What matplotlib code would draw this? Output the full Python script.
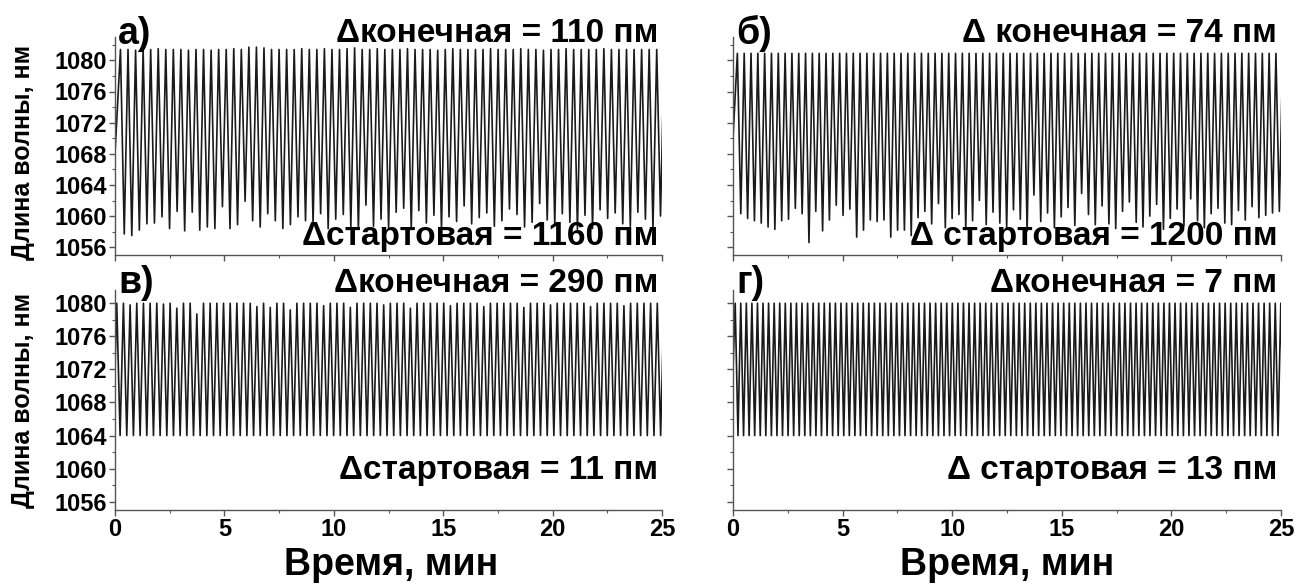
import numpy as np
import matplotlib
matplotlib.use("Agg")
import matplotlib.pyplot as plt
from matplotlib.ticker import MultipleLocator

plt.rcParams['font.family'] = ['Liberation Sans', 'DejaVu Sans']
plt.rcParams['font.weight'] = 'bold'

# --- данные: экстремумы каждого цикла перестройки (нм) ---

# а) период ~0.345 мин
a_period = 0.3452
a_first_peak = 0.25
a_start = 1068.0
a_peaks = [1081.4, 1081.4, 1081.3, 1081.4, 1081.4, 1081.5, 1081.4, 1081.4, 1081.4, 1081.3,
           1081.4, 1081.4, 1081.3, 1081.4, 1081.4, 1081.5, 1081.4, 1081.7, 1081.7, 1081.6,
           1081.4, 1081.4, 1081.4, 1081.4, 1081.5, 1081.4, 1081.4, 1081.5, 1081.4, 1081.4,
           1081.5, 1081.6, 1081.4, 1081.4, 1081.5, 1081.4, 1081.4, 1081.4, 1081.5, 1081.4,
           1081.4, 1081.4, 1081.3, 1081.4, 1081.5, 1081.4, 1081.4, 1081.4, 1081.4, 1081.5,
           1081.4, 1081.4, 1081.4, 1081.5, 1081.4, 1081.4, 1081.3, 1081.4, 1081.4, 1081.5,
           1081.4, 1081.4, 1081.4, 1081.4, 1081.5, 1081.4, 1081.4, 1081.4, 1081.4, 1081.4,
           1081.4, 1081.4, 1081.4]
a_troughs = [1057.7, 1057.5, 1058.2, 1059.0, 1059.1, 1059.9, 1058.4, 1060.6, 1058.1, 1060.5,
             1058.2, 1058.6, 1058.4, 1061.2, 1058.4, 1058.9, 1061.9, 1059.4, 1058.6, 1060.3,
             1059.4, 1058.4, 1058.9, 1059.9, 1059.4, 1059.1, 1060.3, 1058.4, 1059.6, 1060.2,
             1058.6, 1058.3, 1061.4, 1058.7, 1059.6, 1058.5, 1060.5, 1061.0, 1058.4, 1060.7,
             1059.1, 1060.1, 1058.3, 1059.9, 1059.3, 1061.3, 1059.0, 1059.8, 1060.4, 1058.7,
             1059.4, 1060.9, 1060.2, 1058.6, 1059.2, 1061.6, 1059.5, 1058.9, 1060.3, 1059.2,
             1058.3, 1060.1, 1058.4, 1060.8, 1059.7, 1060.4, 1059.0, 1058.7, 1060.5, 1059.6,
             1058.5, 1060.0, 1059.8]

# б) период ~0.311 мин
b_period = 0.311
b_first_peak = 0.2
b_start = 1070.0
b_peaks = [1080.9] * 81
b_troughs = [1060.3, 1059.7, 1059.4, 1059.1, 1058.6, 1058.3, 1059.4, 1059.6, 1061.0, 1060.3,
             1056.6, 1060.6, 1058.1, 1059.5, 1061.4, 1060.1, 1060.9, 1057.3, 1058.2, 1059.5,
             1059.3, 1059.5, 1057.3, 1058.2, 1058.2, 1057.5, 1059.8, 1060.6, 1059.0, 1061.6,
             1058.5, 1059.7, 1060.2, 1058.3, 1059.4, 1062.0, 1058.9, 1060.5, 1059.1, 1058.4,
             1060.8, 1059.6, 1058.1, 1062.7, 1059.3, 1060.4, 1058.5, 1059.9, 1061.1, 1058.8,
             1062.9, 1060.2, 1058.9, 1061.3, 1059.0, 1058.4, 1060.6, 1061.8, 1059.2, 1058.6,
             1060.0, 1061.5, 1058.3, 1059.7, 1060.9, 1058.7, 1062.2, 1059.4, 1058.5, 1060.3,
             1061.0, 1059.1, 1058.9, 1060.7, 1059.5, 1061.2, 1059.8, 1060.1, 1060.4, 1060.6,
             1060.4]

# в) период ~0.305 мин
c_period = 0.305
c_first_peak = 0.08
c_start = 1072.0
c_peaks = [1080.0, 1080.0, 1079.8, 1080.0, 1080.0, 1080.0, 1080.0, 1079.9, 1080.0, 1079.4,
           1080.0, 1080.0, 1078.7, 1080.0, 1080.0, 1080.0, 1080.0, 1080.0, 1080.0, 1080.0,
           1080.0, 1079.6, 1080.0, 1079.5, 1080.0, 1080.0, 1079.2, 1080.0, 1080.0, 1080.0,
           1080.0, 1079.7, 1080.0, 1080.0, 1080.0, 1079.5, 1080.0, 1080.0, 1080.0, 1080.0,
           1079.8, 1080.0, 1080.0, 1080.0, 1079.4, 1080.0, 1080.0, 1080.0, 1080.0, 1080.0,
           1079.7, 1080.0, 1080.0, 1080.0, 1080.0, 1079.6, 1080.0, 1080.0, 1080.0, 1080.0,
           1080.0, 1079.5, 1080.0, 1080.0, 1080.0, 1079.8, 1080.0, 1080.0, 1080.0, 1080.0,
           1080.0, 1079.6, 1080.0, 1080.0, 1080.0, 1080.0, 1079.7, 1080.0, 1080.0, 1080.0,
           1080.0, 1080.0, 1080.0]
c_troughs = [1064.0] * 83

# г) период ~0.254 мин
d_period = 0.254
d_first_peak = 0.1
d_start = 1072.0
d_peaks = [1080.0] * 100
d_troughs = [1064.0] * 100

panels = [
    ("а)", "Δконечная = 110 пм", "Δстартовая = 1160 пм",
     a_period, a_first_peak, a_start, a_peaks, a_troughs),
    ("б)", "Δ конечная = 74 пм", "Δ стартовая = 1200 пм",
     b_period, b_first_peak, b_start, b_peaks, b_troughs),
    ("в)", "Δконечная = 290 пм", "Δстартовая = 11 пм",
     c_period, c_first_peak, c_start, c_peaks, c_troughs),
    ("г)", "Δконечная = 7 пм", "Δ стартовая = 13 пм",
     d_period, d_first_peak, d_start, d_peaks, d_troughs),
]


def sweep(period, first_peak, start, peaks, troughs):
    # вершины: пик, затем минимум через половину периода
    t = [0.0]
    y = [start]
    for k, (p, m) in enumerate(zip(peaks, troughs)):
        t += [first_peak + k * period, first_peak + (k + 0.5) * period]
        y += [p, m]
    return np.array(t), np.array(y)


fig = plt.figure(figsize=(13.01, 5.87), dpi=100)
W, H = 1301, 587
boxes = [(115, 37, 662, 255), (733, 37, 1281, 255),
         (115, 290, 662, 510), (733, 290, 1281, 510)]
ylims = [(1055.0, 1083.0), (1055.0, 1083.0), (1055.0, 1081.6), (1055.0, 1081.6)]
top_y = [1.015, 1.015, 1.03, 1.03]
low_y = [0.085, 0.085, 0.18, 0.18]
ylabel_y = [152, 400]

for i, (letter, txt_end, txt_start, per, t0, y0, pk, tr) in enumerate(panels):
    x0, y1, x1, y2 = boxes[i]
    ax = fig.add_axes([x0 / W, 1 - y2 / H, (x1 - x0) / W, (y2 - y1) / H])
    t, y = sweep(per, t0, y0, pk, tr)
    ax.plot(t, y, color='#1a1a1a', lw=1.2)
    ax.set_xlim(0, 25)
    ax.set_ylim(*ylims[i])

    for s in ('top', 'right'):
        ax.spines[s].set_visible(False)
    for s in ('left', 'bottom'):
        ax.spines[s].set_color('#555555')
        ax.spines[s].set_linewidth(1.0)

    ax.xaxis.set_major_locator(MultipleLocator(5))
    ax.xaxis.set_minor_locator(MultipleLocator(2.5))
    ax.yaxis.set_minor_locator(MultipleLocator(2))
    ax.set_yticks(np.arange(1056, 1081, 4))
    ax.tick_params(which='major', direction='out', length=4, width=1, color='#555555',
                   labelsize=17, pad=2)
    ax.tick_params(which='minor', direction='out', length=2.5, width=0.8, color='#555555')

    if i < 2:
        ax.tick_params(labelbottom=False)
    if i % 2 == 1:
        ax.tick_params(labelleft=False)
    else:
        fig.text(23 / W, 1 - ylabel_y[i // 2] / H, "Длина волны, нм", fontsize=18,
                 fontweight='bold', rotation=90, ha='center', va='center')

    ax.text(0.006, top_y[i], letter, transform=ax.transAxes, fontsize=27,
            fontweight='bold', ha='left', va='center')
    ax.text(0.993, top_y[i], txt_end, transform=ax.transAxes, fontsize=24,
            fontweight='bold', ha='right', va='center')
    ax.text(0.993, low_y[i], txt_start, transform=ax.transAxes, fontsize=24,
            fontweight='bold', ha='right', va='center', zorder=5)

fig.text(391 / W, 1 - 565 / H, "Время, мин", fontsize=27, fontweight='bold',
         ha='center', va='center')
fig.text(1007 / W, 1 - 565 / H, "Время, мин", fontsize=27, fontweight='bold',
         ha='center', va='center')

fig.savefig("out.png", dpi=100)
